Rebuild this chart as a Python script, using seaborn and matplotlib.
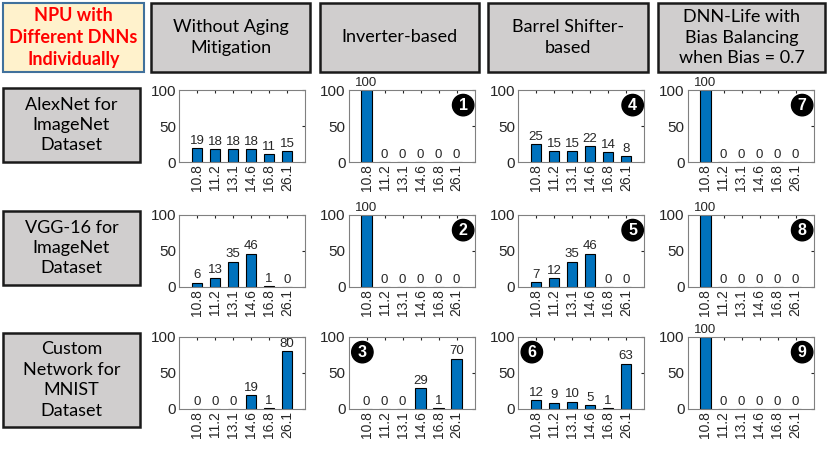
import numpy as np
import pandas as pd
import seaborn as sns
import matplotlib
matplotlib.use('Agg')
import matplotlib.pyplot as plt
from matplotlib.patches import Rectangle

# ---- data ----
categories = ['10.8', '11.2', '13.1', '14.6', '16.8', '26.1']

alexnet_without = [19, 18, 18, 18, 11, 15]
alexnet_inverter = [100, 0, 0, 0, 0, 0]
alexnet_barrel = [25, 15, 15, 22, 14, 8]
alexnet_dnnlife = [100, 0, 0, 0, 0, 0]

vgg_without = [6, 13, 35, 46, 1, 0]
vgg_inverter = [100, 0, 0, 0, 0, 0]
vgg_barrel = [7, 12, 35, 46, 0, 0]
vgg_dnnlife = [100, 0, 0, 0, 0, 0]

mnist_without = [0, 0, 0, 19, 1, 80]
mnist_inverter = [0, 0, 0, 29, 1, 70]
mnist_barrel = [12, 9, 10, 5, 1, 63]
mnist_dnnlife = [100, 0, 0, 0, 0, 0]

col_titles = ['Without Aging\nMitigation', 'Inverter-based',
              'Barrel Shifter-\nbased', 'DNN-Life with\nBias Balancing\nwhen Bias = 0.7']
row_titles = ['AlexNet for\nImageNet\nDataset', 'VGG-16 for\nImageNet\nDataset',
              'Custom\nNetwork for\nMNIST\nDataset']
corner_title = 'NPU with\nDifferent DNNs\nIndividually'

panel_data = [[alexnet_without, alexnet_inverter, alexnet_barrel, alexnet_dnnlife],
              [vgg_without, vgg_inverter, vgg_barrel, vgg_dnnlife],
              [mnist_without, mnist_inverter, mnist_barrel, mnist_dnnlife]]
# panel number markers: (row, col) -> (label, side)
markers = {(0, 1): ('1', 'right'), (1, 1): ('2', 'right'), (2, 1): ('3', 'left'),
           (0, 2): ('4', 'right'), (1, 2): ('5', 'right'), (2, 2): ('6', 'left'),
           (0, 3): ('7', 'right'), (1, 3): ('8', 'right'), (2, 3): ('9', 'right')}

W, H = 831, 455
sns.set_style('white')
plt.rcParams['font.family'] = ['Liberation Sans', 'DejaVu Sans']
fig = plt.figure(figsize=(W / 100, H / 100), dpi=100)


def px_box(x0, y0, x1, y1):
    return [x0 / W, 1 - y1 / H, (x1 - x0) / W, (y1 - y0) / H]


def add_box(x0, y0, x1, y1, text, fc, ec, color='black', weight='normal', lw=1.8):
    l, b, w, h = px_box(x0, y0, x1, y1)
    fig.add_artist(Rectangle((l, b), w, h, transform=fig.transFigure,
                             facecolor=fc, edgecolor=ec, linewidth=lw))
    fig.text(l + w / 2, b + h / 2, text, ha='center', va='center', color=color,
             fontsize=13, fontweight=weight, family='Lato', linespacing=1.34)


# header boxes
add_box(3, 3, 144, 72, corner_title, '#FFF2CC', '#41719C', color='#FF0000', weight='bold', lw=1.5)
header_x = [(151, 310), (320, 479), (488, 648), (658, 825)]
for (x0, x1), t in zip(header_x, col_titles):
    add_box(x0, 3, x1, 72, t, '#D0CECE', '#1a1a1a')
row_y = [(88, 162), (211, 285), (333, 427)]
for (y0, y1), t in zip(row_y, row_titles):
    add_box(3, y0, 140, y1, t, '#D0CECE', '#1a1a1a')

# bar panels
col_left = [179, 348.5, 518, 687.5]
row_top = [90, 215, 337]
ax_w, ax_h = 126, 72
for r in range(3):
    for c in range(4):
        x0, y0 = col_left[c], row_top[r]
        ax = fig.add_axes(px_box(x0, y0, x0 + ax_w, y0 + ax_h))
        df = pd.DataFrame({'cat': categories, 'val': panel_data[r][c]})
        sns.barplot(data=df, x='cat', y='val', ax=ax, color='#0072BD',
                    saturation=1, width=0.6, edgecolor='black', linewidth=0.8)
        ax.bar_label(ax.containers[0], fmt='%d', padding=1, fontsize=9.5)
        ax.set_xlim(-1, 6)
        ax.set_ylim(0, 100)
        ax.set_yticks([0, 50, 100])
        ax.set_xlabel('')
        ax.set_ylabel('')
        ax.tick_params(axis='x', labelrotation=90, labelsize=10, pad=1.5,
                       direction='in', length=2, top=True, colors='#262626')
        ax.tick_params(axis='y', labelsize=11, pad=2, direction='in', length=2,
                       right=True, colors='#262626')
        for s in ax.spines.values():
            s.set_color('#808080')
            s.set_linewidth(0.8)
            s.set_visible(True)
        if (r, c) in markers:
            lab, side = markers[(r, c)]
            xx = 0.91 if side == 'right' else 0.11
            ax.text(xx, 0.79, lab, transform=ax.transAxes, ha='center', va='center',
                    color='white', fontsize=11.5, fontweight='bold',
                    bbox=dict(boxstyle='circle,pad=0.2', fc='black', ec='black'))

fig.savefig('out.png', dpi=100)
